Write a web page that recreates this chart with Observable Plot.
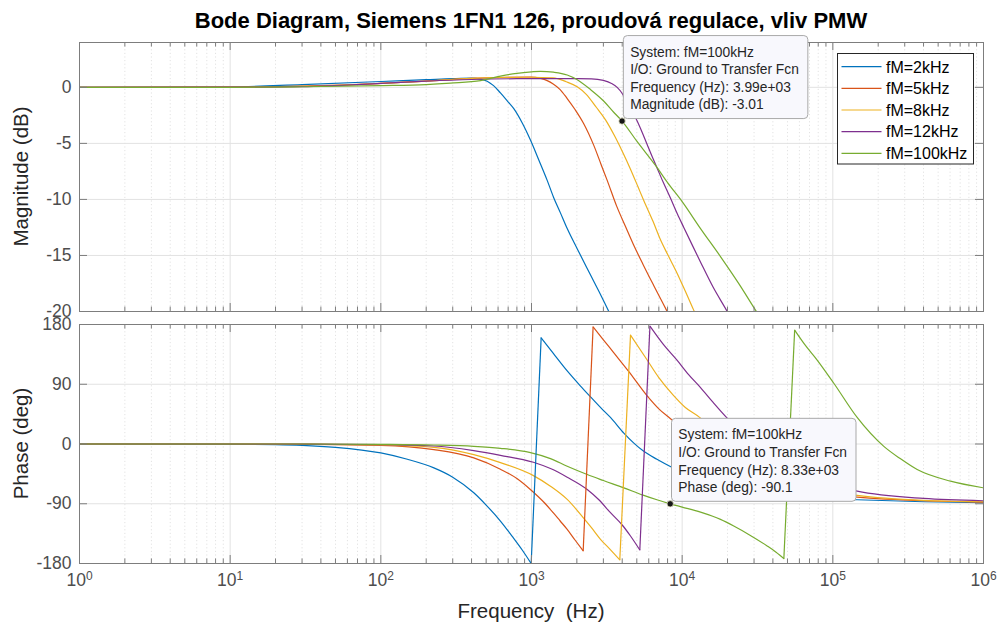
<!DOCTYPE html>
<html><head><meta charset="utf-8">
<script src="https://cdn.jsdelivr.net/npm/d3@7"></script>
<script src="https://cdn.jsdelivr.net/npm/@observablehq/plot@0.6"></script>
<style>
body{margin:0;background:#fff;}
#wrap{position:relative;width:1002px;height:625px;overflow:hidden;background:#fff;font-family:"Liberation Sans",Arial,sans-serif;}
#wrap > svg, #wrap > figure{position:absolute;left:0;margin:0;}
</style></head><body>
<div id="wrap"></div>
<script>
// ---------- text ----------
const titleText = "Bode Diagram, Siemens 1FN1 126, proudová regulace, vliv PMW";
const magLabel = "Magnitude (dB)";
const phaseLabel = "Phase (deg)";
const freqLabel = "Frequency  (Hz)";

// ---------- series ----------
const seriesNames = ["fM=2kHz", "fM=5kHz", "fM=8kHz", "fM=12kHz", "fM=100kHz"];
const seriesColors = ["#0072BD", "#D95319", "#EDB120", "#7E2F8E", "#77AC30"];

// magnitude [Hz, dB]
const mag2k = [[1,0],[10,0.03],[30,0.25],[100,0.52],[200,0.68],[300,0.78],[400,0.82],[460,0.74],[508,0.55],[560,0.15],[622,-0.5],[690,-1.2],[763,-1.9],[870,-3.2],[984,-4.7],[1120,-6.5],[1271,-8.3],[1400,-9.8],[1556,-11.2],[1726,-12.6],[2010,-14.4],[2500,-16.9],[2800,-18.2],[3260,-20],[4000,-22.4]];
const mag5k = [[1,0],[10,0.01],[30,0.1],[100,0.35],[200,0.55],[400,0.8],[700,0.9],[984,0.92],[1150,0.8],[1271,0.6],[1393,0.3],[1550,-0.2],[1726,-1.0],[1950,-2.0],[2213,-3.2],[2595,-5.2],[2900,-6.9],[3180,-8.3],[3675,-10.6],[4200,-12.4],[4738,-14.0],[5500,-15.8],[6484,-17.7],[7880,-19.9],[9500,-22]];
const mag8k = [[1,0],[10,0.01],[30,0.08],[100,0.35],[200,0.55],[400,0.8],[700,0.88],[1000,0.9],[1393,0.85],[1700,0.5],[2010,0.05],[2300,-0.6],[2700,-1.8],[3100,-2.9],[3550,-4.3],[4000,-5.7],[4540,-7.3],[5100,-8.9],[5560,-10.1],[6424,-12.0],[7180,-13.6],[8000,-14.9],[9270,-16.6],[10500,-18.2],[11950,-19.9],[14000,-22]];
const mag12k = [[1,0],[10,0.01],[30,0.06],[100,0.35],[200,0.55],[400,0.7],[800,0.77],[1500,0.78],[2500,0.76],[3000,0.62],[3400,0.35],[3704,0.0],[4000,-0.55],[4207,-1.1],[4600,-2.0],[5027,-3.0],[5500,-4.2],[5857,-5.1],[6424,-6.4],[6770,-7.1],[7500,-8.5],[8372,-9.9],[9300,-11.3],[10250,-12.5],[11500,-13.9],[13250,-15.6],[16000,-17.8],[19900,-20],[25000,-22.5]];
const mag100k = [[1,0],[10,0],[30,0.05],[100,0.15],[200,0.25],[290,0.38],[460,0.6],[622,1.0],[800,1.25],[1000,1.38],[1148,1.43],[1400,1.35],[1726,1.1],[2000,0.7],[2464,-0.2],[3000,-1.2],[3500,-2.2],[3990,-3.01],[5000,-4.8],[6770,-7.1],[8000,-8.5],[10000,-10.2],[13240,-12.6],[17960,-15.1],[24000,-17.6],[31100,-20],[40000,-22.2]];

// phase [Hz, deg]
const ph2k = [[1,0],[10,-0.5],[20,-1],[30,-2],[50,-5],[100,-13.5],[150,-23],[225,-36],[300,-50],[414,-73.5],[500,-92],[622,-116],[750,-140],[870,-160],[995,-180],[1159,160],[1400,136],[1726,110],[2100,88],[2464,71],[2900,54],[3343,40],[4100,16.5],[4800,1],[5560,-11],[6800,-23],[8530,-35],[12000,-50],[20000,-63],[35000,-74],[60000,-80],[145000,-84],[400000,-87],[1000000,-88.5]];
const ph5k = [[1,0],[10,0],[30,-0.5],[100,-2],[225,-8.5],[414,-21],[622,-38],[800,-52],[1000,-70],[1200,-87],[1393,-103.5],[1550,-116],[1726,-128.6],[1950,-145],[2203,-161],[2564,176.4],[3000,157],[3500,138],[4427,109],[5857,72.5],[7000,53],[8530,36.5],[12000,5],[20000,-30],[35000,-55],[70000,-72],[145000,-80],[400000,-85.5],[1000000,-87.5]];
const ph8k = [[1,0],[10,0],[30,-0.3],[100,-1.5],[225,-5],[414,-16],[622,-28],[1030,-47.6],[1336,-63.6],[1726,-83.5],[2224,-112],[2500,-126],[2870,-143.5],[3300,-158],[3855,-174.6],[4540,164],[5857,126.5],[7000,100],[8692,74],[10500,55],[13240,39],[16000,20],[22000,-8],[35000,-38],[60000,-60],[100000,-72],[145000,-77.5],[400000,-85],[1000000,-87]];
const ph12k = [[1,0],[10,0],[30,-0.2],[100,-1],[225,-3],[414,-10],[622,-17],[1030,-27.5],[1336,-37],[1726,-50],[2343,-68.5],[2800,-84],[3343,-103.5],[4000,-122],[4540,-138.6],[5235,-159.6],[6110,177.5],[7500,150],[9270,126],[11000,105],[13240,85],[16000,63],[19900,39],[25000,18],[35000,-10],[60000,-45],[100000,-62],[145000,-71],[400000,-82],[1000000,-85.5]];
const ph100k = [[1,0],[10,0],[30,0],[100,-0.5],[225,-1.5],[414,-3.5],[622,-6.5],[984,-13],[1336,-22],[1726,-33.6],[2343,-46],[3000,-55],[4100,-66],[5500,-77],[6800,-84],[8330,-90.1],[10000,-95],[13240,-102.6],[17960,-113.5],[22000,-123.6],[28000,-137],[36640,-153.6],[42000,-163],[47300,-172.5],[55800,171.5],[65000,150],[78700,126.5],[101500,91.5],[145000,40],[218000,-3.6],[280000,-22],[363000,-38.5],[604000,-56],[1000000,-66]];

// ---------- ticks ----------
const decadeTicks = [1, 10, 100, 1000, 10000, 100000, 1000000];
const magTicks = [0, -5, -10, -15, -20];
const phaseTicks = [180, 90, 0, -90, -180];
const magDomain = [-20, 4];
const phaseDomain = [-180, 180];

// ---------- data tips ----------
const tipMag = [{f: 3990, v: -3.01}];
const tipPhase = [{f: 8330, v: -90.1}];
const tipMagLines = ["System: fM=100kHz", "I/O: Ground to Transfer Fcn", "Frequency (Hz): 3.99e+03", "Magnitude (dB): -3.01"];
const tipPhaseLines = ["System: fM=100kHz", "I/O: Ground to Transfer Fcn", "Frequency (Hz): 8.33e+03", "Phase (deg): -90.1"];

// ---------- build tables ----------
const minorTicks = decadeTicks.slice(0, -1).flatMap(d => [2,3,4,5,6,7,8,9].map(k => d * k));
const magSeries = [mag2k, mag5k, mag8k, mag12k, mag100k];
const phaseSeries = [ph2k, ph5k, ph8k, ph12k, ph100k];
const magRows = magSeries.flatMap((arr, i) => arr.map(([f, v]) => ({f, v, s: seriesNames[i]})));
const phaseRows = [], jumpRows = [];
phaseSeries.forEach((arr, i) => {
  let seg = 0;
  arr.forEach(([f, v], j) => {
    if (j > 0 && Math.abs(v - arr[j-1][1]) > 180) {
      jumpRows.push({f1: arr[j-1][0], v1: arr[j-1][1], f2: f, v2: v, s: seriesNames[i]});
      seg++;
    }
    phaseRows.push({f, v, s: seriesNames[i], k: seriesNames[i] + "#" + seg});
  });
});

// ---------- layout ----------
const W = 1002, mL = 79, mR = 19;
const innerW = W - mL - mR;
const topH = 318, topMT = 42, topMB = 7, topInner = topH - topMT - topMB;
const botTop = 318, botH = 307, botMT = 6, botMB = 62, botInner = botH - botMT - botMB;
const frameColor = "#7d7d7d", gridColor = "#e2e2e2", minorColor = "#e2e2e2";
const font = "'Liberation Sans', Arial, sans-serif";
const color = {domain: seriesNames, range: seriesColors};

function frameTicks(yTicks, inner) {
  return [
    Plot.ruleX(decadeTicks, {insetTop: inner - 8, stroke: frameColor}),
    Plot.ruleX(decadeTicks, {insetBottom: inner - 8, stroke: frameColor}),
    Plot.ruleX(minorTicks, {insetTop: inner - 4.5, stroke: frameColor}),
    Plot.ruleX(minorTicks, {insetBottom: inner - 4.5, stroke: frameColor}),
    Plot.ruleY(yTicks, {insetRight: innerW - 8, stroke: frameColor}),
    Plot.ruleY(yTicks, {insetLeft: innerW - 8, stroke: frameColor})
  ];
}
function grid(yTicks) {
  return [
    Plot.ruleX(minorTicks, {stroke: minorColor, strokeDasharray: "1.2,2.4"}),
    Plot.ruleX(decadeTicks, {stroke: gridColor}),
    Plot.ruleY(yTicks, {stroke: gridColor})
  ];
}
const styleObj = {fontFamily: font, fontSize: "17.5px", color: "#4d4d4d", background: "transparent", overflow: "visible"};

const topPlot = Plot.plot({
  width: W, height: topH, marginLeft: mL, marginRight: mR, marginTop: topMT, marginBottom: topMB,
  style: styleObj,
  x: {type: "log", domain: [1, 1e6], axis: null},
  y: {domain: magDomain},
  color,
  marks: [
    ...grid(magTicks),
    Plot.line(magRows, {x: "f", y: "v", z: "s", stroke: "s", strokeWidth: 1.2, curve: "monotone-x", clip: true}),
    Plot.dot(tipMag, {x: "f", y: "v", r: 3.2, fill: "#151515", stroke: "#e8e8c8", strokeWidth: 0.8}),
    ...frameTicks(magTicks, topInner),
    Plot.axisY(magTicks, {tickSize: 0, tickPadding: 8, label: null, tickFormat: d => String(d)}),
    Plot.frame({stroke: frameColor})
  ]
});
topPlot.style.top = "0px";

const botPlot = Plot.plot({
  width: W, height: botH, marginLeft: mL, marginRight: mR, marginTop: botMT, marginBottom: botMB,
  style: styleObj,
  x: {type: "log", domain: [1, 1e6]},
  y: {domain: phaseDomain},
  color,
  marks: [
    ...grid(phaseTicks),
    Plot.line(phaseRows, {x: "f", y: "v", z: "k", stroke: "s", strokeWidth: 1.2, curve: "monotone-x", clip: true}),
    Plot.link(jumpRows, {x1: "f1", y1: "v1", x2: "f2", y2: "v2", stroke: "s", strokeWidth: 1.2}),
    Plot.dot(tipPhase, {x: "f", y: "v", r: 3.2, fill: "#151515", stroke: "#e8e8c8", strokeWidth: 0.8}),
    ...frameTicks(phaseTicks, botInner),
    Plot.axisY(phaseTicks, {tickSize: 0, tickPadding: 8, label: null, tickFormat: d => String(d)}),
    Plot.axisX(decadeTicks, {tickSize: 0, tickPadding: 10, label: null, tickFormat: d => "10^" + Math.round(Math.log10(d))}),
    Plot.frame({stroke: frameColor})
  ]
});
botPlot.style.top = botTop + "px";

// superscript exponents
d3.select(botPlot).selectAll("text").each(function() {
  const m = /^10\^(\d+)$/.exec(this.textContent);
  if (!m) return;
  const t = d3.select(this);
  t.text(null);
  t.append("tspan").text("10");
  t.append("tspan").attr("dy", "-0.5em").attr("font-size", "12px").text(m[1]);
});

const wrap = document.getElementById("wrap");
wrap.appendChild(topPlot);
wrap.appendChild(botPlot);

// ---------- overlay: titles, legend, data tips ----------
const ov = d3.select(wrap).append("svg")
  .attr("width", W).attr("height", 625)
  .style("position", "absolute").style("left", 0).style("top", 0)
  .style("font-family", font);

ov.append("text").attr("x", mL + innerW / 2).attr("y", 27.5).attr("text-anchor", "middle")
  .attr("font-size", 22).attr("font-weight", "bold").attr("fill", "#000").text(titleText);
ov.append("text").attr("x", mL + innerW / 2).attr("y", 618).attr("text-anchor", "middle")
  .attr("font-size", 20.5).attr("fill", "#262626").attr("xml:space", "preserve").style("white-space", "pre").text(freqLabel);
ov.append("text").attr("transform", `translate(27.5,${topMT + topInner / 2}) rotate(-90)`).attr("text-anchor", "middle")
  .attr("font-size", 20.5).attr("fill", "#262626").text(magLabel);
ov.append("text").attr("transform", `translate(27.5,${botTop + botMT + botInner / 2}) rotate(-90)`).attr("text-anchor", "middle")
  .attr("font-size", 20.5).attr("fill", "#262626").text(phaseLabel);

// legend
const lg = ov.append("g").attr("transform", "translate(837.5,53.5)");
lg.append("rect").attr("width", 136).attr("height", 110.5).attr("fill", "#fff").attr("stroke", "#262626").attr("stroke-width", 1);
seriesNames.forEach((n, i) => {
  const cy = 13.2 + i * 21.65;
  lg.append("line").attr("x1", 4).attr("x2", 44).attr("y1", cy).attr("y2", cy).attr("stroke", seriesColors[i]).attr("stroke-width", 1.2);
  lg.append("text").attr("x", 48.5).attr("y", cy + 5.8).attr("font-size", 16).attr("fill", "#000").text(n);
});

// data tips anchored on the plot scales
function dataTip(plot, offsetY, tip, lines) {
  const x = plot.scale("x").apply(tip.f);
  const y = plot.scale("y").apply(tip.v) + offsetY;
  const bw = 184.5, bh = 83;
  const g = ov.append("g").attr("transform", `translate(${x + 1.8},${y - 2 - bh})`);
  g.append("rect").attr("width", bw).attr("height", bh).attr("rx", 4).attr("ry", 4)
    .attr("fill", "#f8f8fd").attr("stroke", "#a9a9a9").attr("stroke-width", 1);
  lines.forEach((t, i) => {
    g.append("text").attr("x", 6.8).attr("y", 21 + i * 17.6).attr("font-size", 13.8).attr("fill", "#262626").text(t);
  });
}
dataTip(topPlot, 0, tipMag[0], tipMagLines);
dataTip(botPlot, botTop, tipPhase[0], tipPhaseLines);
</script>
</body></html>
